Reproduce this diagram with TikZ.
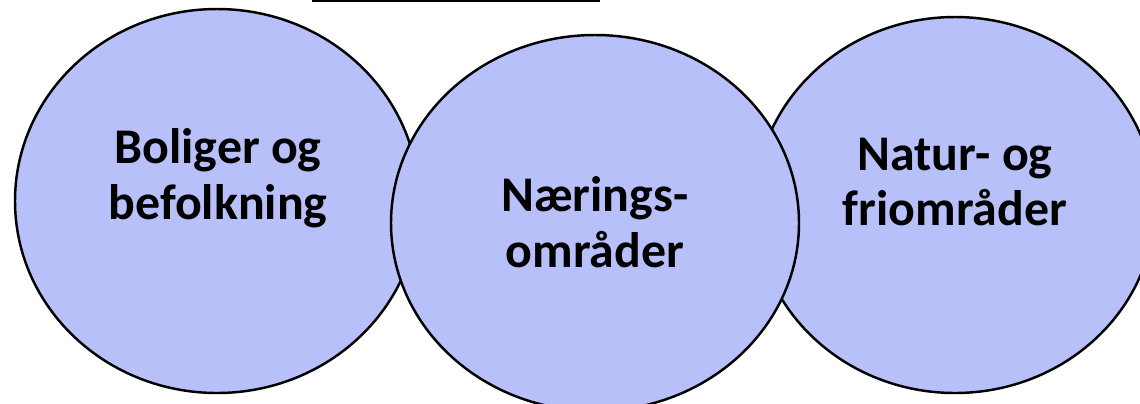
\documentclass[tikz,border=0pt]{standalone}
\usepackage{fontspec}
\setmainfont{Carlito}
\usepackage{xcolor}
\usetikzlibrary{shapes.geometric}
\definecolor{areafill}{RGB}{183,192,248}

\begin{document}
\begin{tikzpicture}[
    area/.style={ellipse,draw=black,line width=0.7pt,fill=areafill,inner sep=0pt},
    areatext/.style={align=center,font=\bfseries\fontsize{14.2}{15.8}\selectfont}]
    \useasboundingbox (0,0) rectangle (11.40,4.03);
    \coordinate (ulA) at (3.12,4.02);
    \coordinate (ulB) at (6.00,4.02);
    \draw[line width=0.6pt] (ulA) -- (ulB);
    \node[area,minimum width=4.04cm,minimum height=3.84cm] (bolig) at (2.17,2.02) {};
    \node[area,minimum width=4.00cm,minimum height=3.76cm] (natur) at (9.55,1.98) {};
    \node[area,minimum width=4.08cm,minimum height=3.76cm] (naering) at (5.95,1.80) {};
    \node[areatext] (boligtxt) at (2.18,2.25) {Boliger og\\befolkning};
    \node[areatext] (naeringtxt) at (5.95,1.81) {Nærings-\\områder};
    \node[areatext] (naturtxt) at (9.55,2.21) {Natur- og\\friområder};
  \end{tikzpicture}
\end{document}
